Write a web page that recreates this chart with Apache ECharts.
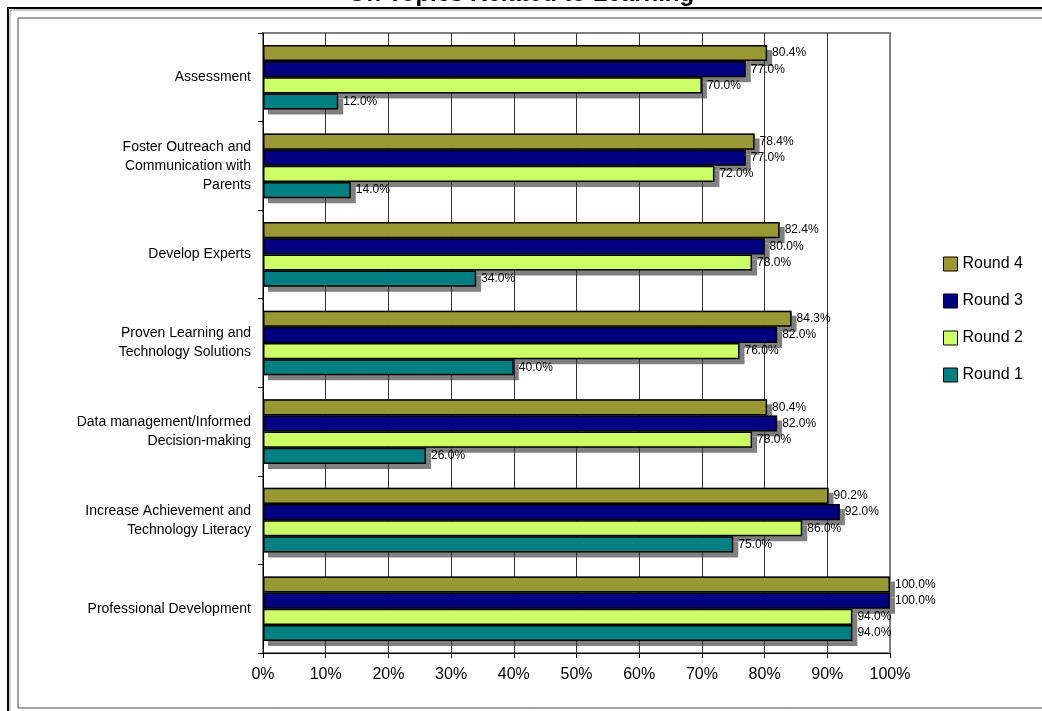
<!DOCTYPE html>
<html>
<head>
<meta charset="utf-8">
<script src="https://cdn.jsdelivr.net/npm/echarts@6/dist/echarts.min.js"></script>
<style>
  html, body { margin: 0; padding: 0; background: #fff; }
  #chart { width: 1042px; height: 711px; }
</style>
</head>
<body>
<div id="chart"></div>
<script>
// Survey topics, listed from the bottom of the axis to the top
const categories = [
  'Professional Development',
  'Increase Achievement and\nTechnology Literacy',
  'Data management/Informed\nDecision-making',
  'Proven Learning and\nTechnology Solutions',
  'Develop Experts',
  'Foster Outreach and\nCommunication with\nParents',
  'Assessment'
];

// Percent of respondents per round, same order as categories
const round1 = [94.0, 75.0, 26.0, 40.0, 34.0, 14.0, 12.0];
const round2 = [94.0, 86.0, 78.0, 76.0, 78.0, 72.0, 70.0];
const round3 = [100.0, 92.0, 82.0, 82.0, 80.0, 77.0, 77.0];
const round4 = [100.0, 90.2, 80.4, 84.3, 82.4, 78.4, 80.4];

// Series listed top bar first within each group
const seriesNames = ['Round 4', 'Round 3', 'Round 2', 'Round 1'];
const seriesColors = ['#999933', '#000080', '#CCFF66', '#008080'];
const seriesData = [round4, round3, round2, round1];

// Value axis ticks (percent)
const xMin = 0;
const xMax = 100;
const xStep = 10;

const FONT = '"Liberation Sans", Arial, sans-serif';

const chart = echarts.init(document.getElementById('chart'), null, { renderer: 'canvas' });

const barLayout = { barGap: '0%', barCategoryGap: '27%' };

// Back layer: the same bars on a twin pair of axes, only there to cast the drop shadow
const shadowSeries = seriesData.map((data, i) => Object.assign({
  name: seriesNames[i] + ' shadow',
  type: 'bar',
  xAxisIndex: 1,
  yAxisIndex: 1,
  data: data,
  z: 1,
  silent: true,
  itemStyle: {
    color: '#808080',
    borderWidth: 0,
    shadowColor: '#808080',
    shadowBlur: 0,
    shadowOffsetX: 5,
    shadowOffsetY: 5
  },
  label: { show: false },
  emphasis: { disabled: true }
}, barLayout));

// Front layer: coloured bars with black outline and value labels
const barSeries = seriesData.map((data, i) => Object.assign({
  name: seriesNames[i],
  type: 'bar',
  data: data,
  z: 3,
  itemStyle: {
    color: seriesColors[i],
    borderColor: '#000',
    borderWidth: 1.5
  },
  label: {
    show: true,
    position: 'right',
    distance: 5,
    color: '#000',
    fontFamily: FONT,
    fontSize: 12,
    formatter: p => p.value.toFixed(1) + '%'
  },
  emphasis: { disabled: true }
}, barLayout));

const valueAxisBase = {
  type: 'value',
  min: xMin,
  max: xMax,
  interval: xStep
};

chart.setOption({
  animation: false,
  backgroundColor: '#fff',
  textStyle: { fontFamily: FONT },
  graphic: [
    {
      type: 'text',
      left: 'center',
      top: -18,
      style: {
        text: 'On Topics Related to Learning',
        fontFamily: FONT,
        fontWeight: 'bold',
        fontSize: 24,
        fill: '#000'
      },
      z: 10
    },
    {
      type: 'rect',
      shape: { x: 8, y: 8, width: 1100, height: 800 },
      style: { fill: 'none', stroke: '#000', lineWidth: 2 },
      silent: true
    },
    {
      type: 'rect',
      shape: { x: 10, y: 10, width: 1100, height: 800 },
      style: { fill: 'none', stroke: '#9a9a9a', lineWidth: 1 },
      silent: true
    },
    {
      type: 'rect',
      shape: { x: 18, y: 18, width: 1100, height: 690 },
      style: { fill: 'none', stroke: '#444', lineWidth: 1 },
      silent: true
    }
  ],
  grid: {
    left: 263,
    right: 152,
    top: 33,
    bottom: 58,
    show: true,
    borderColor: '#808080',
    borderWidth: 2,
    backgroundColor: 'transparent'
  },
  legend: {
    orient: 'vertical',
    left: 938,
    top: 251,
    icon: 'rect',
    itemWidth: 14,
    itemHeight: 14,
    itemGap: 21,
    itemStyle: { borderColor: '#000', borderWidth: 1 },
    textStyle: { fontFamily: FONT, fontSize: 16, color: '#000' },
    data: ['Round 4', 'Round 3', 'Round 2', 'Round 1'],
    selectedMode: false
  },
  xAxis: [
    Object.assign({}, valueAxisBase, {
      axisLine: { show: true, lineStyle: { color: '#000', width: 1 } },
      axisTick: { show: true, length: 5, lineStyle: { color: '#000' } },
      axisLabel: {
        margin: 14,
        fontFamily: FONT,
        fontSize: 16,
        color: '#000',
        formatter: '{value}%'
      },
      splitLine: {
        show: true,
        showMinLine: false,
        showMaxLine: false,
        lineStyle: { color: '#333', width: 1 }
      },
      z: 2
    }),
    Object.assign({}, valueAxisBase, {
      show: false,
      splitLine: { show: false }
    })
  ],
  yAxis: [
    {
      type: 'category',
      data: categories,
      axisLine: { show: true, lineStyle: { color: '#000', width: 1 } },
      axisTick: { show: true, length: 5, lineStyle: { color: '#000' } },
      axisLabel: {
        margin: 12,
        fontFamily: FONT,
        fontSize: 14,
        lineHeight: 19,
        color: '#000',
        align: 'right'
      },
      splitLine: { show: false },
      z: 4
    },
    {
      type: 'category',
      data: categories,
      show: false,
      splitLine: { show: false }
    }
  ],
  series: shadowSeries.concat(barSeries)
});
</script>
</body>
</html>
